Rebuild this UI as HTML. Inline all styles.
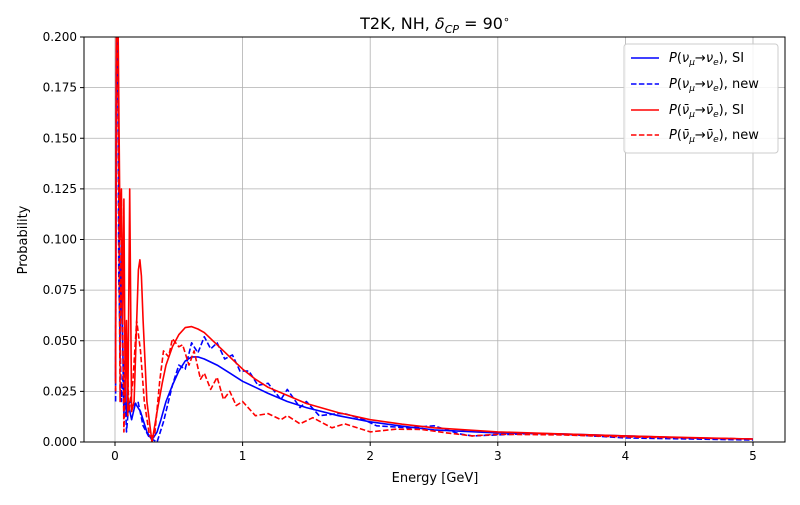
<!DOCTYPE html>
<html><head><meta charset="utf-8"><style>
body{margin:0;background:#fff}
svg{font-family:"DejaVu Sans","Liberation Sans",sans-serif}
</style></head><body>
<svg id="chart" width="800" height="500">
<rect width="800" height="500" fill="#fff"/>
<g id="grid"></g>
<g id="series" clip-path="url(#clip)"></g>
<clipPath id="clip"><rect x="84" y="37" width="701" height="405"/></clipPath>
<rect x="84" y="37" width="701" height="405" fill="none" stroke="#000" stroke-width="1"/>
<g id="ticks"></g>
<text x="435" y="29" text-anchor="middle" font-size="16">T2K, NH, <tspan font-style="italic">δ</tspan><tspan font-size="11" dy="4" font-style="italic">CP</tspan><tspan dy="-4"> = 90</tspan><tspan font-size="11" dy="-6">∘</tspan></text>
<text x="435" y="482" text-anchor="middle" font-size="13">Energy [GeV]</text>
<text transform="translate(27,240) rotate(-90)" text-anchor="middle" font-size="13">Probability</text>
<g>
<rect x="624" y="44" width="154" height="109" rx="3" fill="#fff" fill-opacity="0.85" stroke="#ccc"/>
<g><line x1="631" y1="58" x2="659" y2="58" stroke="#00f" stroke-width="1.5"/><text x="669" y="62" font-size="13"><tspan font-style="italic">P</tspan>(<tspan font-style="italic">ν</tspan><tspan font-size="9" dy="3" font-style="italic">μ</tspan><tspan dy="-3">→</tspan><tspan font-style="italic">ν</tspan><tspan font-size="9" dy="3" font-style="italic">e</tspan><tspan dy="-3">), SI</tspan></text></g>
<g><line x1="631" y1="84" x2="659" y2="84" stroke="#00f" stroke-width="1.5" stroke-dasharray="5.5,2.4"/><text x="669" y="88" font-size="13"><tspan font-style="italic">P</tspan>(<tspan font-style="italic">ν</tspan><tspan font-size="9" dy="3" font-style="italic">μ</tspan><tspan dy="-3">→</tspan><tspan font-style="italic">ν</tspan><tspan font-size="9" dy="3" font-style="italic">e</tspan><tspan dy="-3">), new</tspan></text></g>
<g><line x1="631" y1="110" x2="659" y2="110" stroke="#f00" stroke-width="1.5"/><text x="669" y="114" font-size="13"><tspan font-style="italic">P</tspan>(<tspan font-style="italic">ν̄</tspan><tspan font-size="9" dy="3" font-style="italic">μ</tspan><tspan dy="-3">→</tspan><tspan font-style="italic">ν̄</tspan><tspan font-size="9" dy="3" font-style="italic">e</tspan><tspan dy="-3">), SI</tspan></text></g>
<g><line x1="631" y1="135" x2="659" y2="135" stroke="#f00" stroke-width="1.5" stroke-dasharray="5.5,2.4"/><text x="669" y="139" font-size="13"><tspan font-style="italic">P</tspan>(<tspan font-style="italic">ν̄</tspan><tspan font-size="9" dy="3" font-style="italic">μ</tspan><tspan dy="-3">→</tspan><tspan font-style="italic">ν̄</tspan><tspan font-size="9" dy="3" font-style="italic">e</tspan><tspan dy="-3">), new</tspan></text></g>
</g>
</svg>
<script>
const xTicks=[0,1,2,3,4,5];
const yTicks=[0,0.025,0.05,0.075,0.1,0.125,0.15,0.175,0.2];
const yTickLabels=["0.000","0.025","0.050","0.075","0.100","0.125","0.150","0.175","0.200"];
const nuSI=[[0.005,0.03],[0.01,0.2],[0.02,0.2],[0.03,0.126],[0.04,0.04],[0.05,0.1],[0.06,0.05],[0.07,0.013],[0.08,0.03],[0.09,0.013],[0.1,0.02],[0.13,0.011],[0.16,0.019],[0.2,0.015],[0.25,0.005],[0.28,0.002],[0.3,0.002],[0.33,0.005],[0.36,0.011],[0.4,0.02],[0.45,0.028],[0.5,0.035],[0.55,0.04],[0.6,0.042],[0.65,0.042],[0.7,0.041],[0.8,0.038],[0.9,0.034],[1.0,0.030],[1.1,0.027],[1.2,0.024],[1.35,0.020],[1.5,0.017],[1.75,0.013],[2.0,0.01],[2.25,0.0078],[2.5,0.006],[3.0,0.0045],[3.5,0.004],[4,0.003],[4.5,0.002],[5,0.0015]];
const nuNew=[[0.005,0.02],[0.01,0.2],[0.02,0.2],[0.03,0.08],[0.05,0.02],[0.07,0.04],[0.09,0.005],[0.11,0.02],[0.14,0.018],[0.18,0.02],[0.22,0.008],[0.27,0.002],[0.33,0.0],[0.38,0.01],[0.45,0.028],[0.5,0.038],[0.55,0.036],[0.6,0.049],[0.65,0.044],[0.7,0.052],[0.75,0.046],[0.8,0.049],[0.86,0.041],[0.92,0.043],[0.98,0.035],[1.05,0.035],[1.12,0.028],[1.2,0.029],[1.3,0.021],[1.35,0.026],[1.45,0.017],[1.5,0.020],[1.6,0.013],[1.75,0.014],[1.8,0.014],[1.95,0.011],[2.05,0.008],[2.3,0.007],[2.5,0.008],[2.7,0.004],[2.8,0.003],[3.0,0.0035],[3.3,0.0043],[3.6,0.0035],[4.0,0.002],[4.5,0.0015],[5,0.001]];
const nubarSI=[[0.005,0.03],[0.01,0.2],[0.025,0.2],[0.04,0.1],[0.05,0.125],[0.06,0.06],[0.07,0.12],[0.08,0.02],[0.09,0.06],[0.1,0.013],[0.115,0.125],[0.13,0.015],[0.15,0.02],[0.17,0.06],[0.183,0.085],[0.195,0.09],[0.207,0.082],[0.22,0.06],[0.25,0.02],[0.29,0.0],[0.33,0.015],[0.37,0.029],[0.4,0.038],[0.45,0.047],[0.5,0.053],[0.55,0.0565],[0.6,0.057],[0.65,0.0558],[0.7,0.054],[0.8,0.048],[0.9,0.042],[1.0,0.036],[1.1,0.031],[1.2,0.027],[1.35,0.023],[1.5,0.019],[1.75,0.0145],[2.0,0.011],[2.25,0.0088],[2.5,0.007],[3,0.005],[3.5,0.004],[4,0.003],[4.5,0.0022],[5,0.0015]];
const nubarNew=[[0.005,0.025],[0.01,0.2],[0.02,0.2],[0.03,0.12],[0.04,0.02],[0.05,0.12],[0.07,0.005],[0.09,0.05],[0.11,0.015],[0.14,0.03],[0.17,0.06],[0.2,0.045],[0.23,0.02],[0.27,0.003],[0.31,0.003],[0.35,0.03],[0.38,0.045],[0.42,0.042],[0.45,0.051],[0.5,0.047],[0.53,0.048],[0.58,0.038],[0.62,0.045],[0.67,0.031],[0.7,0.034],[0.75,0.026],[0.8,0.032],[0.85,0.021],[0.9,0.025],[0.95,0.018],[1.0,0.02],[1.1,0.013],[1.2,0.014],[1.3,0.011],[1.35,0.013],[1.45,0.009],[1.55,0.012],[1.7,0.007],[1.8,0.009],[2.0,0.005],[2.2,0.0063],[2.4,0.0062],[2.6,0.0045],[2.8,0.003],[3.0,0.0038],[3.5,0.0035],[4,0.0025],[4.5,0.002],[5,0.0015]];
const NS="http://www.w3.org/2000/svg";
function xs(v){return 115+v*127.6;}
function ys(v){return 442-v*2025;}
const grid=document.getElementById('grid'),ticks=document.getElementById('ticks'),ser=document.getElementById('series');
function mk(tag,attrs,parent){const e=document.createElementNS(NS,tag);for(const k in attrs)e.setAttribute(k,attrs[k]);parent.appendChild(e);return e;}
xTicks.forEach(t=>{
  const gl=mk('line',{x1:xs(t),x2:xs(t),y1:37,y2:442,stroke:'#b0b0b0','stroke-width':0.8},grid);
  
  
  const tk=mk('line',{x1:xs(t),x2:xs(t),y1:442,y2:446,stroke:'#000'},ticks);
  
  
  const tx=mk('text',{x:xs(t),y:460,'text-anchor':'middle','font-size':12},ticks);
  tx.textContent=t;
  
  
});
yTicks.forEach((t,i)=>{
  const gl=mk('line',{x1:84,x2:785,y1:ys(t),y2:ys(t),stroke:'#b0b0b0','stroke-width':0.8},grid);
  
  
  const tk=mk('line',{x1:80,x2:84,y1:ys(t),y2:ys(t),stroke:'#000'},ticks);
  
  
  const tx=mk('text',{x:77,y:ys(t)+4,'text-anchor':'end','font-size':12},ticks);
  tx.textContent=yTickLabels[i];
  
  
});
function line(data,color,dash,name){
  const d=data.map((p,i)=>(i?'L':'M')+xs(p[0]).toFixed(1)+','+ys(p[1]).toFixed(1)).join('');
  const a={d:d,fill:'none',stroke:color,'stroke-width':1.6,'stroke-linejoin':'round'};
  if(dash)a['stroke-dasharray']='5.5,2.4';
  const p=mk('path',a,ser);
  
  
}
line(nuSI,'#00f',false,'line-nu-si');
line(nuNew,'#00f',true,'line-nu-new');
line(nubarSI,'#f00',false,'line-nubar-si');
line(nubarNew,'#f00',true,'line-nubar-new');
</script>
</body></html>
